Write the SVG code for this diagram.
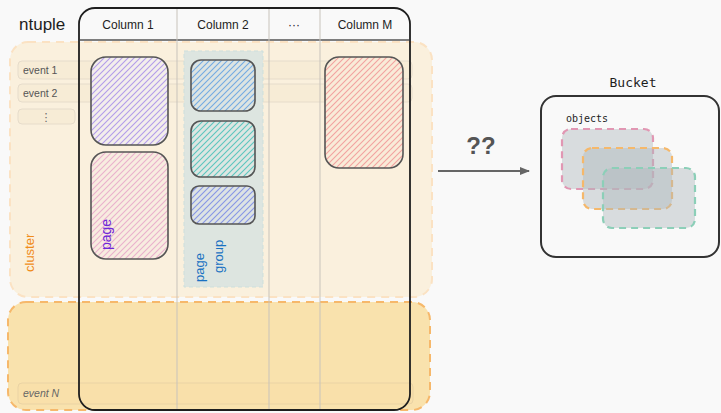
<svg xmlns="http://www.w3.org/2000/svg" width="721" height="413" viewBox="0 0 721 413">
<defs>
<style>
.hand{font-family:"Liberation Sans","DejaVu Sans",sans-serif;}
.mono{font-family:"DejaVu Sans Mono","Liberation Mono",monospace;}
.page{stroke:#555;stroke-width:1.6;}
.ev{fill:#f7ecd6;stroke:#e6dccb;stroke-width:1;}
.obj{fill:#b0b8bc;fill-opacity:0.45;stroke-width:2.2;stroke-dasharray:7 5;}
</style>
<pattern id="hPurple" width="6" height="6" patternUnits="userSpaceOnUse"><rect width="6" height="6" fill="#f3eeec"/><path d="M-1,1 L1,-1 M0,6 L6,0 M5,7 L7,5" fill="none" stroke="#b39de9" stroke-width="1.1"/></pattern>
<pattern id="hPink" width="6" height="6" patternUnits="userSpaceOnUse"><rect width="6" height="6" fill="#f8ece0"/><path d="M-1,1 L1,-1 M0,6 L6,0 M5,7 L7,5" fill="none" stroke="#eab1cc" stroke-width="1.1"/></pattern>
<pattern id="hBlue" width="6" height="6" patternUnits="userSpaceOnUse"><rect width="6" height="6" fill="#dde4e2"/><path d="M-1,1 L1,-1 M0,6 L6,0 M5,7 L7,5" fill="none" stroke="#74abe2" stroke-width="1.1"/></pattern>
<pattern id="hTeal" width="6" height="6" patternUnits="userSpaceOnUse"><rect width="6" height="6" fill="#dde6e2"/><path d="M-1,1 L1,-1 M0,6 L6,0 M5,7 L7,5" fill="none" stroke="#5cc6bf" stroke-width="1.1"/></pattern>
<pattern id="hViolet" width="6" height="6" patternUnits="userSpaceOnUse"><rect width="6" height="6" fill="#dde3e4"/><path d="M-1,1 L1,-1 M0,6 L6,0 M5,7 L7,5" fill="none" stroke="#8796e6" stroke-width="1.1"/></pattern>
<pattern id="hRed" width="6" height="6" patternUnits="userSpaceOnUse"><rect width="6" height="6" fill="#f9ebd8"/><path d="M-1,1 L1,-1 M0,6 L6,0 M5,7 L7,5" fill="none" stroke="#f2a3a0" stroke-width="1.1"/></pattern>
<marker id="arr" viewBox="0 0 10 10" refX="9" refY="5" markerWidth="5" markerHeight="5" orient="auto"><path d="M0,1 L10,5 L0,9 z" fill="#666"/></marker>
</defs>
<rect width="721" height="413" fill="#f9f9f9"/>

<g id="cluster">
<rect x="10" y="42" width="422" height="255" rx="18" fill="#faf0dd" stroke="#fbe2c3" stroke-width="2" stroke-dasharray="8 6"/>
<text class="hand" x="0" y="0" font-size="13" fill="#f08c1a" transform="translate(34,272) rotate(-90)">cluster</text>
</g>
<g id="cluster-n">
<rect x="8" y="302" width="422" height="108" rx="18" fill="#f9e2ad" stroke="#f6b86b" stroke-width="2" stroke-dasharray="8 6"/>
</g>

<g id="events">
<rect class="ev" x="18" y="61" width="394" height="18" rx="4"/>
<text class="hand" x="23" y="74" font-size="10.5" fill="#555">event 1</text>
<rect class="ev" x="18" y="84" width="394" height="18" rx="4"/>
<text class="hand" x="23" y="97" font-size="10.5" fill="#555">event 2</text>
<rect class="ev" x="18" y="109" width="57" height="15" rx="4"/>
<text class="hand" x="46" y="121" font-size="11" fill="#666" text-anchor="middle">⋮</text>
<rect x="18" y="383" width="395" height="21" rx="4" fill="#f9e0aa" stroke="#ead3a4" stroke-width="1"/>
<text class="hand" x="23" y="397" font-size="10.5" fill="#666" font-style="italic">event N</text>
</g>

<g id="pagegroup">
<rect x="184" y="51" width="79" height="236" fill="#dde5e0" stroke="#cddfdc" stroke-width="1" stroke-dasharray="4 3"/>
<text class="hand" x="0" y="0" font-size="13" fill="#1971c2" transform="translate(204,282) rotate(-90)">page</text>
<text class="hand" x="0" y="0" font-size="13" fill="#1971c2" transform="translate(223,273) rotate(-90)">group</text>
</g>

<g id="ntuple">
<rect x="79" y="8" width="331" height="402" rx="16" fill="none" stroke="#1e1e1e" stroke-width="1.8"/>
<line x1="80" y1="40" x2="409" y2="40" stroke="#555" stroke-width="1.5"/>
<line x1="177" y1="9" x2="177" y2="409" stroke="#c8c3bb" stroke-width="1"/>
<line x1="269" y1="9" x2="269" y2="409" stroke="#c8c3bb" stroke-width="1"/>
<line x1="320" y1="9" x2="320" y2="409" stroke="#c8c3bb" stroke-width="1"/>
<text class="hand" x="19" y="30" font-size="17" fill="#1e1e1e">ntuple</text>
<text class="hand" x="128" y="29" font-size="12" fill="#1e1e1e" text-anchor="middle">Column 1</text>
<text class="hand" x="223" y="29" font-size="12" fill="#1e1e1e" text-anchor="middle">Column 2</text>
<text class="hand" x="294" y="29" font-size="12" fill="#1e1e1e" text-anchor="middle">···</text>
<text class="hand" x="365" y="29" font-size="12" fill="#1e1e1e" text-anchor="middle">Column M</text>
</g>

<g id="page1"><rect class="page" x="91" y="57" width="77" height="88" rx="15" fill="url(#hPurple)"/></g>
<g id="page2">
<rect class="page" x="91" y="152" width="77" height="107" rx="15" fill="url(#hPink)"/>
<text class="hand" x="0" y="0" font-size="14" fill="#7028d8" transform="translate(111,250) rotate(-90)">page</text>
</g>
<g id="page3"><rect class="page" x="191" y="60" width="64" height="51" rx="10" fill="url(#hBlue)"/></g>
<g id="page4"><rect class="page" x="191" y="121" width="64" height="56" rx="10" fill="url(#hTeal)"/></g>
<g id="page5"><rect class="page" x="191" y="186" width="64" height="38" rx="8" fill="url(#hViolet)"/></g>
<g id="page6"><rect class="page" x="325" y="57" width="78" height="111" rx="14" fill="url(#hRed)"/></g>

<g id="connectors">
<line x1="438" y1="171" x2="529" y2="171" stroke="#666" stroke-width="2" marker-end="url(#arr)"/>
<text class="hand" x="481" y="154" font-size="24" font-weight="bold" fill="#555" text-anchor="middle">??</text>
</g>

<g id="bucket">
<text class="mono" x="633" y="87" font-size="13" fill="#1e1e1e" text-anchor="middle">Bucket</text>
<rect x="541" y="96" width="178" height="161" rx="15" fill="none" stroke="#333" stroke-width="2"/>
<text class="mono" x="566" y="122" font-size="10" fill="#1e1e1e">objects</text>
<rect class="obj" x="562" y="129" width="91" height="60" rx="9" stroke="#e197b3"/>
<rect class="obj" x="583" y="148" width="89" height="61" rx="9" stroke="#f5b86b"/>
<rect class="obj" x="603" y="168" width="92" height="60" rx="9" stroke="#8ccfb8"/>
</g>
</svg>
